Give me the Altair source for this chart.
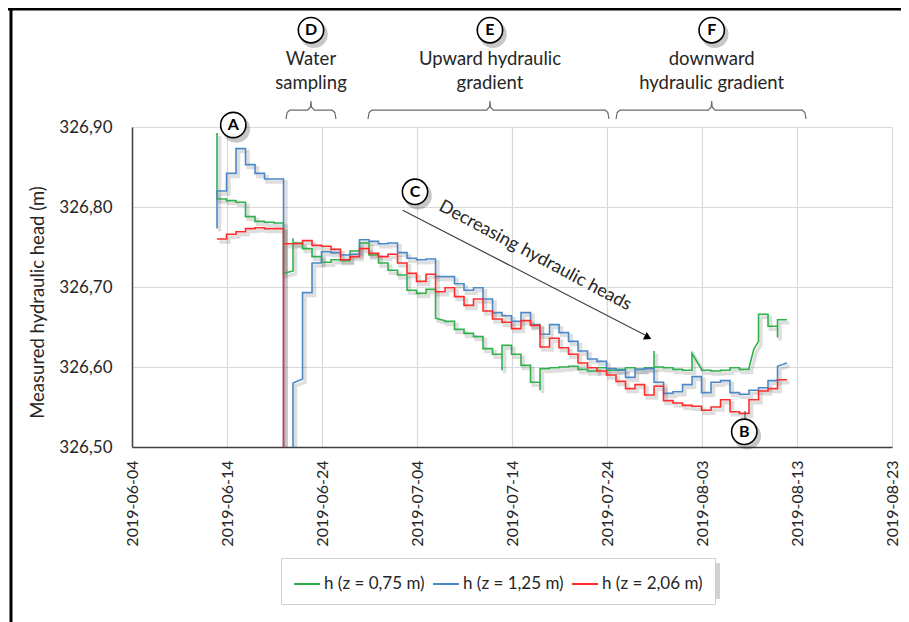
import altair as alt
import pandas as pd

SERIES = ["h (z = 0,75 m)", "h (z = 1,25 m)", "h (z = 2,06 m)"]
COLORS = ["#2EB04B", "#4A88C8", "#FF2B2B"]
FIRST_STEP = "2019-06-12T22:48:00"   # start of the first daily reading

# daily heads (m); a tuple = value drifting within the day
GREEN = [326.810, 326.808, 326.806, 326.788, 326.782, 326.781, 326.780, (326.717, 326.720),
         326.755, 326.748, 326.738, 326.731, 326.734, 326.733, 326.745, 326.755,
         326.740, 326.730, 326.721, 326.715, 326.696, 326.692, 326.697, (326.661, 326.658),
         326.657, 326.647, 326.642, 326.638, 326.623, 326.616, 326.627, 326.616,
         326.602, 326.581, 326.598, 326.599, 326.600, 326.601, 326.597, 326.595,
         326.599, 326.596, 326.597, 326.599, 326.597, 326.599, 326.600, 326.599,
         326.597, 326.596, (326.617, 326.597), 326.596, 326.595, 326.596, 326.599, 326.597,
         (326.599, 326.622, 326.632), 326.666, 326.651, 326.659]
BLUE = [326.820, 326.842, 326.873, 326.853, 326.842, 326.835, 326.835, 326.300,
        (326.580, 326.585), 326.693, 326.730, 326.744, 326.743, 326.740, 326.741, 326.759,
        326.757, 326.754, 326.755, 326.743, 326.736, 326.734, 326.735, 326.713,
        326.713, 326.704, 326.696, 326.699, 326.685, 326.668, 326.664, 326.657,
        326.668, 326.653, 326.641, 326.653, 326.643, 326.632, 326.620, 326.610,
        326.607, 326.598, 326.596, 326.587, 326.597, 326.598, 326.581, 326.567,
        326.569, 326.578, 326.588, 326.568, 326.581, 326.583, 326.568, 326.566,
        326.571, 326.574, 326.583, (326.601, 326.605)]
RED = [326.760, 326.766, 326.769, 326.773, 326.774, 326.773, 326.773, 326.754,
       326.754, 326.758, 326.752, 326.751, 326.747, 326.734, 326.738, 326.748,
       326.742, 326.738, 326.741, 326.730, 326.717, 326.707, 326.716, 326.694,
       326.699, 326.688, 326.677, 326.685, 326.670, 326.660, 326.656, 326.648,
       326.658, 326.652, 326.625, 326.636, 326.624, 326.616, 326.605, 326.599,
       326.595, 326.590, 326.582, 326.573, 326.578, 326.565, 326.576, 326.558,
       326.555, 326.552, 326.551, 326.546, 326.550, 326.559, 326.544, 326.542,
       326.559, 326.570, 326.573, 326.584]
# short-lived readings at the start of a day: {day index: head}
SPIKES = [{0: 326.8925, 8: 326.761, 30: 326.596, 34: 326.571, 46: 326.620, 59: 326.637},
          {0: 326.773},
          {7: 326.300}]

X_TICKS = ["2019-06-04", "2019-06-14", "2019-06-24", "2019-07-04", "2019-07-14",
           "2019-07-24", "2019-08-03", "2019-08-13", "2019-08-23"]
Y_TICKS = [326.50, 326.55, 326.60, 326.65, 326.70, 326.75, 326.80, 326.85, 326.90]

# annotation anchors in data units
CIRCLES = {"label": ["A", "B", "C", "D", "E", "F"],
           "t": ["2019-06-14T15:50", "2019-08-07T10:48", "2019-07-03T18:58",
                 "2019-06-22T20:10", "2019-07-11T16:19", "2019-08-04T00:29"],
           "h": [326.9025, 326.519, 326.819, 327.021, 327.021, 327.021]}
PHASES = {"line1": ["Water", "Upward hydraulic", "downward"],
          "line2": ["sampling", "gradient", "hydraulic gradient"],
          "start": ["2019-06-20T05:02", "2019-06-28T20:10", "2019-07-24T22:48"],
          "center": ["2019-06-22T20:10", "2019-07-11T16:19", "2019-08-04T00:29"],
          "end": ["2019-06-25T11:17", "2019-07-24T05:02", "2019-08-13T22:48"]}
TREND = {"label": "Decreasing hydraulic heads",
         "t": ["2019-07-02T11:46", "2019-07-28T00:00"], "h": [326.796, 326.640],
         "text_t": "2019-07-16T10:05", "text_h": 326.739,
         "head_t": "2019-07-28T07:41", "head_h": 326.637}
B_LINK = {"t": "2019-08-07T12:43", "h": [326.535, 326.545]}

EPOCH = pd.Timestamp("1970-01-01")


def ms(ts):
    return int((pd.Timestamp(ts) - EPOCH) / pd.Timedelta(milliseconds=1))


rows = []
t0 = pd.Timestamp(FIRST_STEP)
for name, vals, spikes in zip(SERIES, [GREEN, BLUE, RED], SPIKES):
    seq = 0
    for i, v in enumerate(vals):
        pts = v if isinstance(v, tuple) else (v, v)
        if i in spikes:
            rows.append((name, ms(t0 + pd.Timedelta(days=i)), spikes[i], seq)); seq += 1
        n = len(pts)
        for j, p in enumerate(pts):
            rows.append((name, ms(t0 + pd.Timedelta(days=i + j / (n - 1))), p, seq)); seq += 1
data = pd.DataFrame(rows, columns=["series", "t", "h", "seq"])

FONT = "Lato"
TXT = "#262626"
SHADOW = dict(color="#000000", opacity=0.13, xOffset=2.5, yOffset=3)

xscale = alt.Scale(type="utc", domain=[ms(X_TICKS[0]), ms(X_TICKS[-1])])
yscale = alt.Scale(domain=[Y_TICKS[0], Y_TICKS[-1]], nice=False, zero=False)

line_shadow = alt.Chart(data).mark_line(clip=True, strokeWidth=3.5, **SHADOW).encode(
    x=alt.X("t:T", scale=xscale), y=alt.Y("h:Q", scale=yscale),
    detail="series:N", order=alt.Order("seq:Q"))

lines = alt.Chart(data).mark_line(clip=True, strokeWidth=1.6).encode(
    x=alt.X("t:T", scale=xscale,
            axis=alt.Axis(values=[ms(d) for d in X_TICKS], format="%Y-%m-%d", labelAngle=-90,
                          title=None, ticks=False, tickSize=0, labelPadding=13,
                          labelFontSize=16, grid=True, labelOverlap=False)),
    y=alt.Y("h:Q", scale=yscale,
            axis=alt.Axis(values=Y_TICKS, labelExpr="replace(format(datum.value, '.2f'), '.', ',')",
                          title="Measured hydraulic head (m)", ticks=False, tickSize=0,
                          labelPadding=20, labelFontSize=17, grid=True, labelOverlap=False,
                          titleX=-95, titleY=175, titleAngle=270, titleBaseline="middle",
                          titleAlign="center", titleFontSize=18.5, titleFontWeight="normal")),
    color=alt.Color("series:N", scale=alt.Scale(domain=SERIES, range=COLORS),
                    legend=alt.Legend(title=None, orient="none", legendX=149, legendY=431,
                                      direction="horizontal", symbolType="stroke",
                                      symbolSize=676, symbolStrokeWidth=2, labelFontSize=17,
                                      labelFont=FONT, labelColor=TXT, columnPadding=4,
                                      labelOffset=3, padding=12, strokeColor="#d0d0d0",
                                      fillColor="white")),
    order=alt.Order("seq:Q"),
)

# phase brackets
br = []
for k in range(3):
    s, c, e = (pd.Timestamp(PHASES[key][k]) for key in ("start", "center", "end"))
    d = lambda days: pd.Timedelta(days=days)
    pts = [(s, 326.910), (s + d(0.12), 326.918), (s + d(0.4), 326.921),
           (c - d(0.35), 326.921), (c - d(0.05), 326.925), (c, 326.9325),
           (c + d(0.05), 326.925), (c + d(0.35), 326.921), (e - d(0.4), 326.921),
           (e - d(0.12), 326.918), (e, 326.910)]
    for j, (tt, hh) in enumerate(pts):
        br.append((k, ms(tt), hh, j))
brdf = pd.DataFrame(br, columns=["bid", "t", "h", "seq"])
brackets = alt.Chart(brdf).mark_line(color="#6b6b6b", strokeWidth=1.2).encode(
    x="t:T", y="h:Q", detail="bid:N", order="seq:Q")

ph = pd.DataFrame({"t": [ms(c) for c in PHASES["center"]] * 2,
                   "h": [326.985] * 3 + [326.955] * 3,
                   "txt": PHASES["line1"] + PHASES["line2"]})
phase_text = alt.Chart(ph).mark_text(font=FONT, fontSize=18.5, color=TXT, baseline="middle").encode(
    x="t:T", y="h:Q", text="txt:N")

trend_df = pd.DataFrame({"t": [ms(t) for t in TREND["t"]], "h": TREND["h"], "seq": [0, 1]})
trend_line = alt.Chart(trend_df).mark_line(color="#404040", strokeWidth=1.2).encode(
    x="t:T", y="h:Q", order="seq:Q")
head_df = pd.DataFrame({"t": [ms(TREND["head_t"])], "h": [TREND["head_h"]]})
trend_head = alt.Chart(head_df).mark_point(shape="triangle-right", size=70, filled=True,
                                           color="black", opacity=1, angle=27).encode(
    x="t:T", y="h:Q")
ttxt_df = pd.DataFrame({"t": [ms(TREND["text_t"])], "h": [TREND["text_h"]], "txt": [TREND["label"]]})
trend_text = alt.Chart(ttxt_df).mark_text(font=FONT, fontSize=18, color=TXT, angle=28).encode(
    x="t:T", y="h:Q", text="txt:N")

blink_df = pd.DataFrame({"t": [ms(B_LINK["t"])] * 2, "h": B_LINK["h"], "seq": [0, 1]})
b_link = alt.Chart(blink_df).mark_line(color="#404040", strokeWidth=1).encode(
    x="t:T", y="h:Q", order="seq:Q")

circ_df = pd.DataFrame({"t": [ms(t) for t in CIRCLES["t"]], "h": CIRCLES["h"],
                        "label": CIRCLES["label"]})
circle_shadow = alt.Chart(circ_df).mark_point(shape="circle", size=760, filled=True,
                                              color="#000000", opacity=0.22,
                                              xOffset=3, yOffset=4).encode(x="t:T", y="h:Q")
circles = alt.Chart(circ_df).mark_point(shape="circle", size=640, filled=True, fill="white",
                                        stroke="black", strokeWidth=1.6, opacity=1).encode(
    x="t:T", y="h:Q")
letters = alt.Chart(circ_df).mark_text(font=FONT, fontSize=16, fontWeight="bold",
                                       color="black", baseline="middle").encode(
    x="t:T", y="h:Q", text="label:N")

one = pd.DataFrame({"k": [0]})
legend_shadow = alt.Chart(one).mark_rect(color="#000000", opacity=0.18).encode(
    x=alt.value(154), x2=alt.value(588), y=alt.value(436), y2=alt.value(472))
frame_top = alt.Chart(one).mark_rule(color="black", strokeWidth=3).encode(
    x=alt.value(-124), x2=alt.value(780), y=alt.value(-118))
frame_left = alt.Chart(one).mark_rule(color="black", strokeWidth=3).encode(
    x=alt.value(-121), y=alt.value(-119), y2=alt.value(500))

chart = alt.layer(line_shadow, lines, brackets, phase_text, trend_line, trend_head, trend_text,
                  b_link, circle_shadow, circles, letters, legend_shadow,
                  frame_top, frame_left).properties(
    width=760, height=320,
    autosize=alt.AutoSizeParams(type="none"),
    padding={"left": 124, "top": 119, "right": 9, "bottom": 175},
).configure_view(stroke=None).configure_axis(
    labelFont=FONT, titleFont=FONT, labelColor=TXT, titleColor=TXT,
    gridColor="#d9d9d9", gridWidth=1.2, domainColor="#404040", domainWidth=1.5,
).configure_axisX(domain=True).configure_axisY(domain=True)

chart.save("out.html", embed_options={"renderer": "svg", "actions": False})
